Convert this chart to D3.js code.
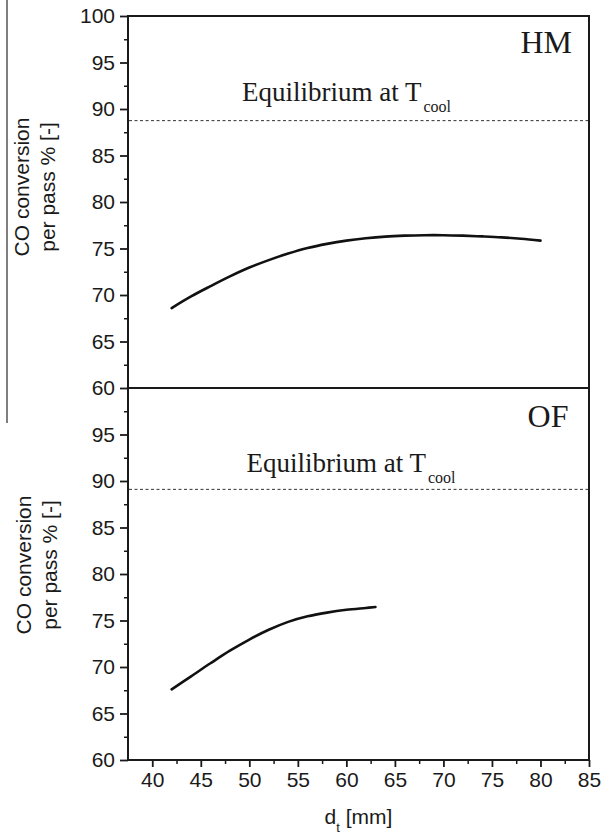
<!DOCTYPE html>
<html>
<head>
<meta charset="utf-8">
<script src="https://cdn.jsdelivr.net/npm/d3@7"></script>
<style>
  html, body { margin: 0; padding: 0; background: #fff; }
  svg { display: block; }
  .tick text { font-family: "Liberation Sans", Arial, sans-serif; font-size: 21px; fill: #1a1a1a; }
</style>
</head>
<body>
<svg id="chart" width="603" height="837"></svg>
<script>
// Tube diameter d_t [mm] and CO conversion per pass [%] for each reactor type
const hmDiameter   = [42, 44, 46, 48, 50, 52, 54, 56, 58, 60, 62, 64, 66, 68, 70, 72, 74, 76, 78, 80];
const hmConversion = [68.6, 69.85, 70.95, 72.0, 72.95, 73.75, 74.45, 75.05, 75.5, 75.85, 76.1, 76.28, 76.38, 76.43, 76.43, 76.38, 76.3, 76.2, 76.05, 75.85];

const ofDiameter   = [42, 44, 46, 48, 50, 52, 54, 56, 58, 60, 62, 63];
const ofConversion = [67.6, 69.0, 70.4, 71.75, 72.95, 74.0, 74.85, 75.45, 75.85, 76.15, 76.35, 76.45];

// Equilibrium conversion at coolant temperature
const hmEquilibrium = 88.75;
const ofEquilibrium = 89.1;

// Tick labels
const xTickValues = [40, 45, 50, 55, 60, 65, 70, 75, 80, 85];
const yTickValuesTop = [60, 65, 70, 75, 80, 85, 90, 95, 100];
const yTickValuesBottom = [60, 65, 70, 75, 80, 85, 90, 95];

const svg = d3.select("#chart");
const ink = "#1a1a1a";
const left = 128, right = 589;

const x = d3.scaleLinear().domain([37.5, 85]).range([left, right]);
const yTop = d3.scaleLinear().domain([60, 100]).range([388, 16]);
const yBot = d3.scaleLinear().domain([60, 100]).range([760, 388]);

// Thin separator rule at the far left of the upper panel
svg.append("line")
  .attr("x1", 7).attr("x2", 7).attr("y1", 0).attr("y2", 423)
  .attr("stroke", "#555").attr("stroke-width", 1.5);

function panel(y, tickVals, diam, conv, eq, tag, opts) {
  const g = svg.append("g");

  // Minor y ticks
  const minor = d3.axisLeft(y).tickValues(d3.range(62.5, 100, 5)).tickSize(4).tickFormat("");
  g.append("g").attr("transform", `translate(${left},0)`).call(minor)
    .call(s => s.select(".domain").remove())
    .call(s => s.selectAll("line").attr("stroke", ink).attr("stroke-width", 1.5));

  // Major y ticks with labels
  const major = d3.axisLeft(y).tickValues(tickVals).tickSize(8).tickPadding(5).tickFormat(d3.format("d"));
  g.append("g").attr("transform", `translate(${left},0)`).call(major)
    .call(s => s.select(".domain").remove())
    .call(s => s.selectAll("line").attr("stroke", ink).attr("stroke-width", 1.8));

  // Frame
  g.append("rect")
    .attr("x", left).attr("y", y.range()[1])
    .attr("width", right - left).attr("height", y.range()[0] - y.range()[1])
    .attr("fill", "none").attr("stroke", ink).attr("stroke-width", 2);

  // Equilibrium line
  g.append("line")
    .attr("x1", left + 1).attr("x2", right - 1)
    .attr("y1", y(eq)).attr("y2", y(eq))
    .attr("stroke", "#333").attr("stroke-width", 1)
    .attr("stroke-dasharray", "3,2.5");

  const eqText = g.append("text")
    .attr("x", opts.eqX).attr("y", y(eq) - opts.eqGap)
    .attr("font-family", "'Liberation Serif', 'Times New Roman', serif")
    .attr("font-size", 27).attr("fill", ink);
  eqText.append("tspan").text("Equilibrium at T");
  eqText.append("tspan").attr("dx", 2).attr("dy", 11).attr("font-size", 16).text("cool");

  // Panel tag
  g.append("text")
    .attr("x", opts.tagX).attr("y", opts.tagY)
    .attr("text-anchor", "end")
    .attr("font-family", "'Liberation Serif', 'Times New Roman', serif")
    .attr("font-size", 32).attr("fill", ink)
    .text(tag);

  // Conversion curve
  const line = d3.line()
    .x((d, i) => x(diam[i]))
    .y(d => y(d))
    .curve(d3.curveCatmullRom.alpha(0.5));
  g.append("path")
    .datum(conv)
    .attr("d", line)
    .attr("fill", "none")
    .attr("stroke", "#111")
    .attr("stroke-width", 2.6)
    .attr("stroke-linecap", "round");

  // Y axis title (two lines)
  const cy = opts.titleY;
  const t = g.append("text")
    .attr("transform", `rotate(-90)`)
    .attr("text-anchor", "middle")
    .attr("font-family", "'Liberation Sans', Arial, sans-serif")
    .attr("font-size", 21).attr("fill", ink);
  t.append("tspan").attr("x", -cy).attr("y", opts.line1).text("CO conversion");
  t.append("tspan").attr("x", -cy).attr("y", opts.line2).text("per pass % [-]");
}

panel(yTop, yTickValuesTop, hmDiameter, hmConversion, hmEquilibrium, "HM",
  { eqX: 242, eqGap: 20, tagX: 572, tagY: 52.5, titleY: 187, line1: 28.5, line2: 55 });
panel(yBot, yTickValuesBottom, ofDiameter, ofConversion, ofEquilibrium, "OF",
  { eqX: 246.5, eqGap: 17, tagX: 568.5, tagY: 426.7, titleY: 565, line1: 30.5, line2: 57 });

// X axis (bottom panel)
const xMinor = d3.axisBottom(x).tickValues(d3.range(42.5, 85, 5)).tickSize(4).tickFormat("");
svg.append("g").attr("transform", "translate(0,760)").call(xMinor)
  .call(s => s.select(".domain").remove())
  .call(s => s.selectAll("line").attr("stroke", ink).attr("stroke-width", 1.5));
const xMajor = d3.axisBottom(x).tickValues(xTickValues).tickSize(7).tickPadding(5).tickFormat(d3.format("d"));
svg.append("g").attr("transform", "translate(0,760)").call(xMajor)
  .call(s => s.select(".domain").remove())
  .call(s => s.selectAll("line").attr("stroke", ink).attr("stroke-width", 1.8));

// X axis title
const xt = svg.append("text")
  .attr("x", (left + right) / 2).attr("y", 823.5)
  .attr("text-anchor", "middle")
  .attr("font-family", "'Liberation Sans', Arial, sans-serif")
  .attr("font-size", 21).attr("fill", ink);
xt.append("tspan").text("d");
xt.append("tspan").attr("dy", 8).attr("font-size", 13).text("t");
xt.append("tspan").attr("dy", -8).text(" [mm]");
</script>
</body>
</html>
